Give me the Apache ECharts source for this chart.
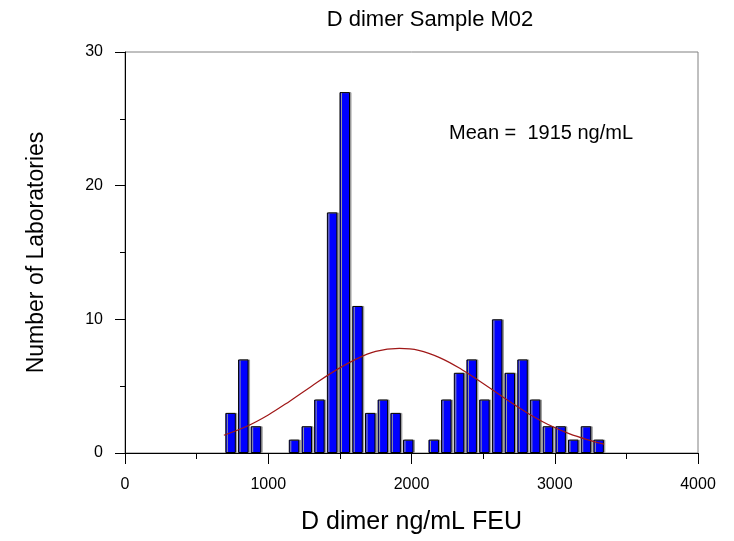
<!DOCTYPE html>
<html>
<head>
<meta charset="utf-8">
<script src="https://cdn.jsdelivr.net/npm/echarts@6/dist/echarts.min.js"></script>
<style>
html,body{margin:0;padding:0;background:#fff;}
#main{width:734px;height:541px;}
</style>
</head>
<body>
<div id="main"></div>
<script>
// Bin centers (ng/mL FEU)
var binCenters = [737, 826, 914, 1003, 1091, 1180, 1269, 1357, 1446, 1534,
                  1623, 1712, 1800, 1889, 1977, 2066, 2155, 2243, 2332, 2420,
                  2509, 2598, 2686, 2775, 2863, 2952, 3041, 3129, 3218, 3306];
// Number of laboratories per bin
var labCounts = [3, 7, 2, 0, 0, 1, 2, 4, 18, 27,
                 11, 3, 4, 3, 1, 0, 1, 4, 6, 7,
                 4, 10, 6, 7, 4, 2, 2, 1, 2, 1];
// Fitted curve points
var curveX = [690, 850, 1000, 1150, 1300, 1450, 1600, 1750, 1915, 2050, 2200, 2350, 2500, 2650, 2800, 2950, 3100, 3250, 3345];
var curveY = [1.33, 2.0, 2.85, 3.88, 4.98, 6.05, 6.95, 7.6, 7.82, 7.68, 7.12, 6.25, 5.2, 4.1, 3.05, 2.15, 1.45, 0.93, 0.67];
var xTicks = [0, 1000, 2000, 3000, 4000];
var yTicks = [0, 10, 20, 30];
var titleText = 'D dimer Sample M02';
var meanText = 'Mean =  1915 ng/mL';

var barData = binCenters.map(function (c, i) {
  var v = labCounts[i];
  return v === 0 ? {value: [c, v], itemStyle: {borderWidth: 0, shadowColor: 'transparent'}} : [c, v];
});
var curveData = curveX.map(function (x, i) { return [x, curveY[i]]; });

var chart = echarts.init(document.getElementById('main'), null, {renderer: 'canvas'});
var font = '"Liberation Sans", Arial, sans-serif';
chart.setOption({
  animation: false,
  backgroundColor: '#fff',
  textStyle: {fontFamily: font},
  grid: {left: 125, right: 36, top: 52, bottom: 88, show: true, borderColor: '#808080', borderWidth: 1, backgroundColor: 'transparent'},
  graphic: [
    {type: 'text', x: 430, y: 20, style: {text: titleText, font: '22px ' + font, fill: '#000', align: 'center', verticalAlign: 'middle'}},
    {type: 'text', x: 449, y: 133, style: {text: meanText, font: '20px ' + font, fill: '#000', align: 'left', verticalAlign: 'middle'}}
  ],
  xAxis: {
    type: 'value', min: xTicks[0], max: xTicks[xTicks.length - 1], interval: 1000,
    name: 'D dimer ng/mL FEU', nameLocation: 'middle', nameGap: 57,
    nameTextStyle: {fontSize: 25, color: '#000', fontFamily: font},
    axisLine: {show: true, lineStyle: {color: '#000', width: 1}},
    axisTick: {show: true, length: 11, lineStyle: {color: '#000'}},
    minorTick: {show: true, splitNumber: 2, length: 6, lineStyle: {color: '#000'}},
    axisLabel: {fontSize: 16, color: '#000', margin: 24, fontFamily: font,
                formatter: function (v) { return String(v); }},
    splitLine: {show: false}
  },
  yAxis: {
    type: 'value', min: yTicks[0], max: yTicks[yTicks.length - 1], interval: 10,
    name: 'Number of Laboratories', nameLocation: 'middle', nameGap: 77, nameRotate: 90,
    nameTextStyle: {fontSize: 23, color: '#000', fontFamily: font},
    axisLine: {show: true, lineStyle: {color: '#000', width: 1}},
    axisTick: {show: true, length: 10, lineStyle: {color: '#000'}},
    minorTick: {show: true, splitNumber: 2, length: 5, lineStyle: {color: '#000'}},
    axisLabel: {fontSize: 16, color: '#000', margin: 22, fontFamily: font},
    splitLine: {show: false}
  },
  series: [
    {
      type: 'bar', data: barData, barWidth: 10.5, z: 2,
      itemStyle: {color: '#0000ff', borderColor: '#000', borderWidth: 1,
                  shadowColor: '#9a9a9a', shadowOffsetX: 1.5, shadowOffsetY: 0, shadowBlur: 0}
    },
    {
      type: 'line', data: curveData, smooth: 0.4, symbol: 'none', z: 3,
      lineStyle: {color: '#a01818', width: 1.2}
    }
  ]
});
</script>
</body>
</html>
